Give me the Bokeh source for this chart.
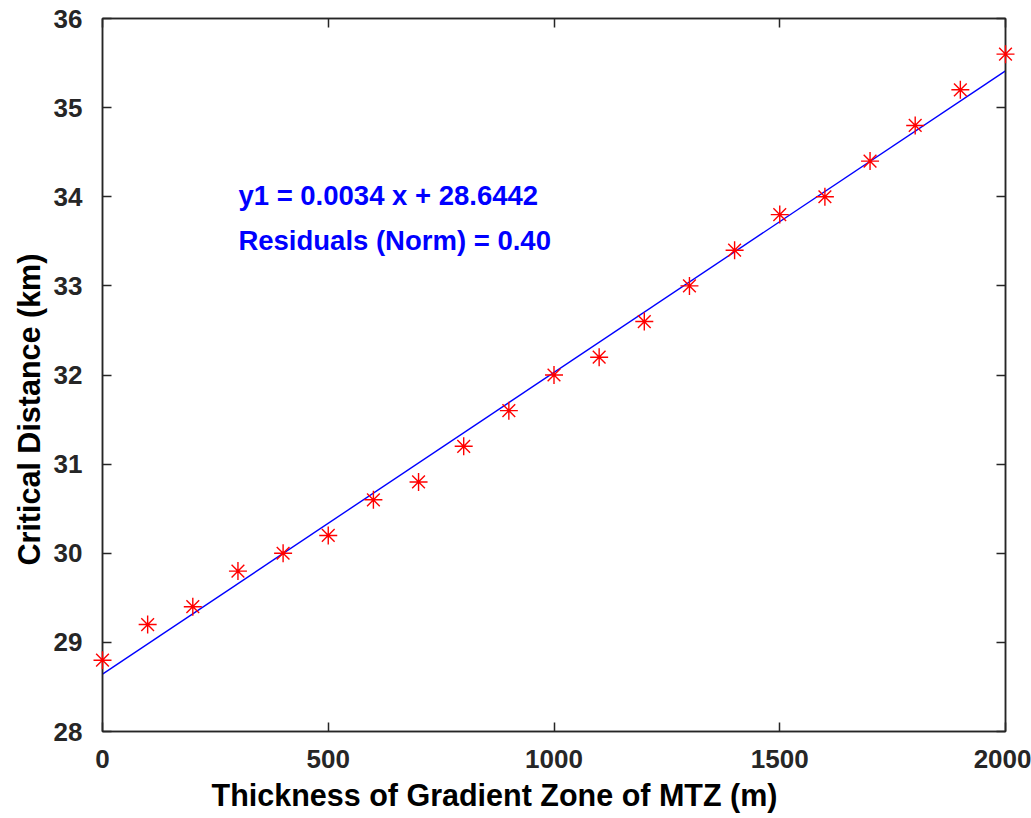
import numpy as np
from bokeh.plotting import figure
from bokeh.models import LinearAxis, Range1d, FixedTicker, Label, Title
from bokeh.embed import file_html
from bokeh.resources import INLINE

thickness_m = [0, 100, 200, 300, 400, 500, 600, 700, 800, 900, 1000,
               1100, 1200, 1300, 1400, 1500, 1600, 1700, 1800, 1900, 2000]
critical_km = [28.8, 29.2, 29.4, 29.8, 30.0, 30.2, 30.6, 30.8, 31.2, 31.6, 32.0,
               32.2, 32.6, 33.0, 33.4, 33.8, 34.0, 34.4, 34.8, 35.2, 35.6]
x_ticks = [0, 500, 1000, 1500, 2000]
y_ticks = [28, 29, 30, 31, 32, 33, 34, 35, 36]
x_title = "Thickness of Gradient Zone of MTZ (m)"
y_title = "Critical Distance (km)"
fit_text = "y1 = 0.0034 x + 28.6442"
resid_text = "Residuals (Norm) = 0.40"

slope, intercept = np.polyfit(thickness_m, critical_km, 1)
fit_x = [thickness_m[0], thickness_m[-1]]
fit_y = [slope * v + intercept for v in fit_x]

FONT = "Liberation Sans"
AX_COL = "#262626"

p = figure(width=1031, height=818, output_backend="svg", toolbar_location=None,
           x_range=Range1d(0, 2000), y_range=Range1d(28, 36),
           min_border_left=102, min_border_right=26, min_border_top=18,
           min_border_bottom=87, x_axis_type=None, y_axis_type=None)
p.xgrid.visible = False
p.ygrid.visible = False
p.outline_line_color = AX_COL
p.outline_line_width = 1.5
p.background_fill_color = "white"
p.border_fill_color = "white"


def style(ax, ticks, show_labels):
    ax.ticker = FixedTicker(ticks=ticks)
    ax.minor_tick_line_color = None
    ax.major_tick_in = 9
    ax.major_tick_out = 0
    ax.major_tick_line_color = AX_COL
    ax.major_tick_line_width = 1.5
    ax.axis_line_color = AX_COL
    ax.axis_line_width = 1.5
    ax.major_label_text_font = FONT
    ax.major_label_text_font_style = "bold"
    if show_labels:
        ax.major_label_text_color = AX_COL
        ax.major_label_text_font_size = "26px"
    else:
        ax.major_label_text_color = None
        ax.major_label_text_font_size = "1px"
        ax.major_label_standoff = 0


xb = LinearAxis()
style(xb, x_ticks, True)
xb.major_label_standoff = 18
p.add_layout(xb, "below")

yl = LinearAxis()
style(yl, y_ticks, True)
yl.major_label_standoff = 20
p.add_layout(yl, "left")

xt = LinearAxis()
style(xt, x_ticks, False)
p.add_layout(xt, "above")

yr = LinearAxis()
style(yr, y_ticks, False)
p.add_layout(yr, "right")

# axis titles, shifted off-centre as in the reference
p.add_layout(Title(text=x_title, text_font=FONT, text_font_style="bold",
                   text_font_size="30.5px", text_color="black",
                   align="left", offset=109, standoff=10), "below")
p.add_layout(Title(text=y_title, text_font=FONT, text_font_style="bold",
                   text_font_size="30.5px", text_color="black",
                   align="left", offset=166, standoff=10), "left")

p.line(fit_x, fit_y, line_color="#0000ff", line_width=1.4)
p.scatter(thickness_m, critical_km, marker="asterisk", size=18,
          line_color="#ff0000", line_width=1.4, level="overlay")

p.add_layout(Label(x=301, y=34.01, text=fit_text, text_font=FONT,
                   text_font_style="bold", text_font_size="27.5px",
                   text_color="#0000ff", text_baseline="alphabetic"))
p.add_layout(Label(x=301, y=33.51, text=resid_text, text_font=FONT,
                   text_font_style="bold", text_font_size="27.5px",
                   text_color="#0000ff", text_baseline="alphabetic"))

open("out.html", "w").write(file_html(p, INLINE))
